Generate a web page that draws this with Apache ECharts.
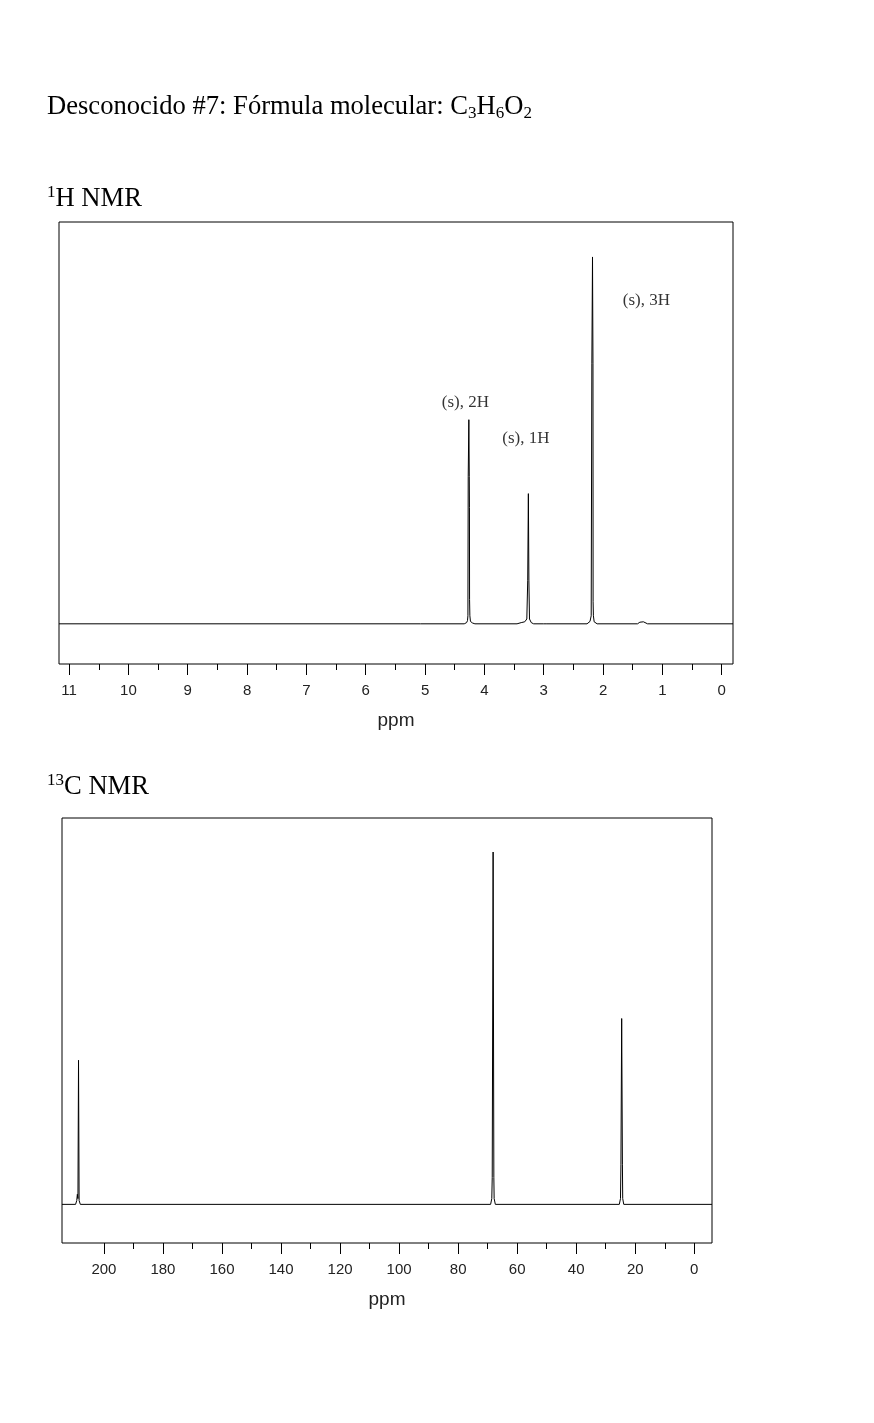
<!DOCTYPE html>
<html>
<head>
<meta charset="utf-8">
<script src="https://cdn.jsdelivr.net/npm/echarts@6/dist/echarts.min.js"></script>
<style>
  html, body { margin: 0; padding: 0; background: #fff; }
  #chart { width: 874px; height: 1423px; }
</style>
</head>
<body>
<div id="chart"></div>
<script>
// ---------- data ----------
// 1H NMR trace: [ppm, relative intensity]
const hSpectrum = [
  [11.17, 0],
  [5.075, 0], [5.062, 0.35], [5.05, 0],
  [4.34, 0], [4.30, 0.3], [4.285, 0.8], [4.278, 2.0], [4.273, 36.6], [4.262, 50.8], [4.255, 36.6],
  [4.252, 29.0], [4.250, 6.0], [4.245, 2.0], [4.235, 0.6], [4.20, 0.2], [4.16, 0],
  [3.45, 0], [3.38, 0.3], [3.32, 0.5], [3.285, 1.2], [3.270, 10.7], [3.259, 32.4], [3.250, 10.7],
  [3.24, 1.2], [3.21, 0.3], [3.17, 0],
  [3.00, 0], [2.98, 0.35], [2.96, 0],
  [2.27, 0], [2.22, 0.6], [2.20, 2.0], [2.189, 64.7], [2.178, 91.3], [2.170, 64.7], [2.168, 5.5],
  [2.163, 2.0], [2.15, 0.5], [2.10, 0],
  [1.42, 0], [1.38, 0.4], [1.35, 0.7], [1.32, 0.5], [1.29, 0.4], [1.25, 0],
  [-0.19, 0]
];
const hRange = [-0.19, 11.17];
const hTicks = [0, 1, 2, 3, 4, 5, 6, 7, 8, 9, 10, 11];
const hMinorTicks = [0.5, 1.5, 2.5, 3.5, 4.5, 5.5, 6.5, 7.5, 8.5, 9.5, 10.5];
const hNoteText = ['(s), 2H', '(s), 1H', '(s), 3H'];
const hNotePpm = [4.32, 3.30, 1.27];
const hNoteY = [55.0, 46.0, 80.4];

// 13C NMR trace: [ppm, relative intensity]
const cSpectrum = [
  [214.2, 0], [209.6, 0], [209.2, 1.0], [209.0, 2.6], [208.8, 1.5], [208.6, 37.3], [208.4, 1.0], [208.0, 0],
  [69.0, 0], [68.6, 1.5], [68.45, 6.9], [68.15, 91.2], [67.9, 6.9], [67.8, 1.5], [67.4, 0],
  [25.4, 0], [25.0, 1.5], [24.85, 10.4], [24.6, 48.1], [24.35, 10.4], [24.25, 1.5], [23.9, 0],
  [-6.0, 0]
];
const cRange = [-6.0, 214.2];
const cTicks = [0, 20, 40, 60, 80, 100, 120, 140, 160, 180, 200];
const cMinorTicks = [10, 30, 50, 70, 90, 110, 130, 150, 170, 190];

// ---------- chart ----------
const chart = echarts.init(document.getElementById('chart'), null, { renderer: 'canvas' });

const serif = 'Liberation Serif, Times New Roman, serif';
const sans = 'Liberation Sans, Arial, sans-serif';

function mainX(gridIndex, range, ticks) {
  return {
    gridIndex: gridIndex, type: 'value', inverse: true, position: 'bottom',
    min: range[0], max: range[1],
    axisLine: { show: false, onZero: false }, splitLine: { show: false },
    axisTick: { show: true, customValues: ticks, length: 11, lineStyle: { color: '#000', width: 1 } },
    axisLabel: { show: true, customValues: ticks, margin: 19, fontSize: 15, color: '#222', fontFamily: sans },
    name: 'ppm', nameLocation: 'middle', nameGap: 47,
    nameTextStyle: { fontSize: 19, color: '#222', fontFamily: sans }
  };
}
function minorX(gridIndex, range, ticks) {
  return {
    gridIndex: gridIndex, type: 'value', inverse: true, position: 'bottom',
    min: range[0], max: range[1],
    axisLine: { show: false, onZero: false }, splitLine: { show: false },
    axisTick: { show: true, customValues: ticks, length: 6, lineStyle: { color: '#000', width: 1 } },
    axisLabel: { show: false }
  };
}
function hiddenY(gridIndex) {
  return { gridIndex: gridIndex, type: 'value', min: -10, max: 100, show: false, splitLine: { show: false } };
}

const notes = hNoteText.map((t, i) => ({ name: t, value: [hNotePpm[i], hNoteY[i]] }));

chart.setOption({
  animation: false,
  backgroundColor: '#fff',
  grid: [
    { left: 59, top: 222, width: 674, height: 442, show: true, borderColor: '#000', borderWidth: 1, backgroundColor: 'transparent' },
    { left: 62, top: 818, width: 650, height: 425, show: true, borderColor: '#000', borderWidth: 1, backgroundColor: 'transparent' }
  ],
  xAxis: [
    mainX(0, hRange, hTicks), minorX(0, hRange, hMinorTicks),
    mainX(1, cRange, cTicks), minorX(1, cRange, cMinorTicks)
  ],
  yAxis: [hiddenY(0), hiddenY(1)],
  series: [
    {
      type: 'line', xAxisIndex: 0, yAxisIndex: 0, data: hSpectrum,
      showSymbol: false, symbol: 'none', lineStyle: { color: '#000', width: 1 }, silent: true
    },
    {
      type: 'scatter', xAxisIndex: 0, yAxisIndex: 0, data: notes, symbolSize: 0, silent: true,
      label: { show: true, position: 'inside', formatter: '{b}', fontFamily: serif, fontSize: 17, color: '#000' }
    },
    {
      type: 'line', xAxisIndex: 2, yAxisIndex: 1, data: cSpectrum,
      showSymbol: false, symbol: 'none', lineStyle: { color: '#000', width: 1 }, silent: true
    }
  ],
  graphic: [
    {
      type: 'text', x: 47, y: 92,
      style: {
        text: '{a|Desconocido #7: Fórmula molecular: C}{s|3}{a|H}{s|6}{a|O}{s|2}',
        verticalAlign: 'top',
        rich: {
          a: { fontFamily: serif, fontSize: 26.6, lineHeight: 30, fill: '#000' },
          s: { fontFamily: serif, fontSize: 17, lineHeight: 18, verticalAlign: 'bottom', fill: '#000' }
        }
      }
    },
    {
      type: 'text', x: 47, y: 184,
      style: {
        text: '{p|1}{a|H NMR}',
        verticalAlign: 'top',
        rich: {
          a: { fontFamily: serif, fontSize: 26.6, lineHeight: 30, fill: '#000' },
          p: { fontFamily: serif, fontSize: 17, lineHeight: 24, verticalAlign: 'top', fill: '#000' }
        }
      }
    },
    {
      type: 'text', x: 47, y: 772,
      style: {
        text: '{p|13}{a|C NMR}',
        verticalAlign: 'top',
        rich: {
          a: { fontFamily: serif, fontSize: 26.6, lineHeight: 30, fill: '#000' },
          p: { fontFamily: serif, fontSize: 17, lineHeight: 24, verticalAlign: 'top', fill: '#000' }
        }
      }
    }
  ]
});
</script>
</body>
</html>
